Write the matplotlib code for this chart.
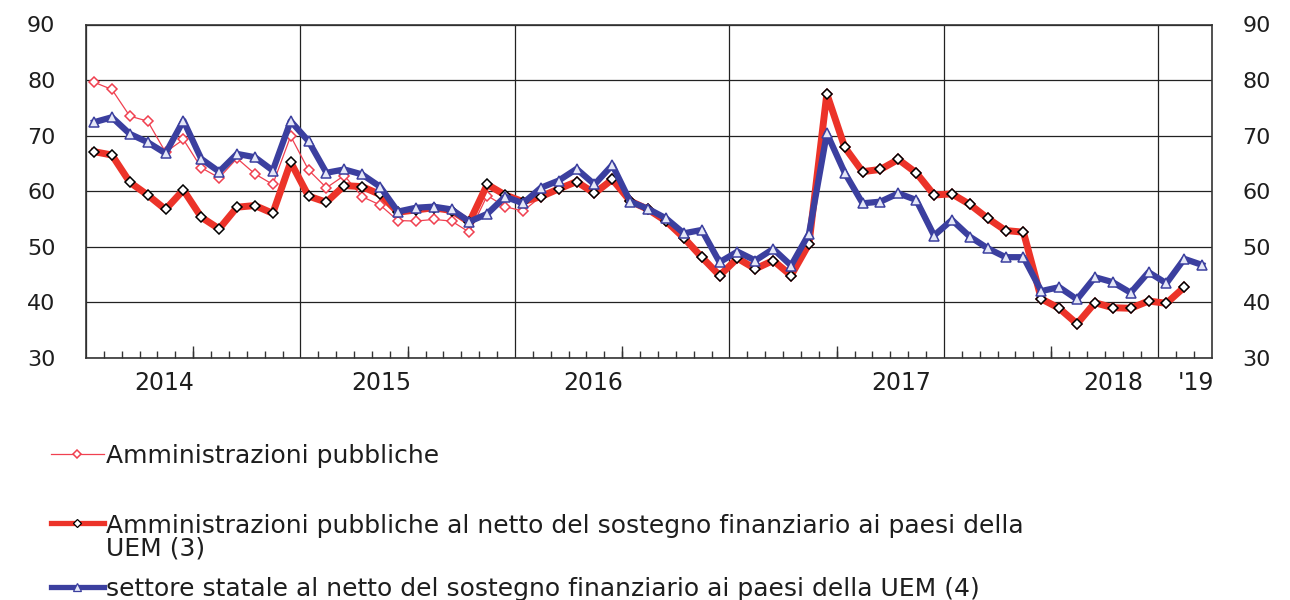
import matplotlib
matplotlib.use("Agg")
import matplotlib.pyplot as plt
from matplotlib.lines import Line2D

# monthly observations, Jan 2014 onwards
ap = [79.6, 78.3, 73.5, 72.6, 67.0, 69.3, 64.2, 62.4, 65.9, 63.1, 61.2, 69.9,
      63.8, 60.6, 62.8, 59.0, 57.5, 54.7, 54.6, 54.9, 54.6, 52.6, 59.2, 57.2,
      56.4, 59.0, 60.4, 61.7, 59.6, 62.1, 58.2, 56.7, 54.6, 51.6, 48.1, 44.8,
      47.9, 46.0, 47.5, 44.8, 50.5, 77.5, 67.9, 63.5, 63.9, 65.7, 63.3, 59.3,
      59.5, 57.6, 55.1, 52.9, 52.6, 40.6, 38.9, 36.1, 39.9, 39.0, 38.9, 40.2,
      39.8, 42.7]
ap_net = [67.1, 66.5, 61.6, 59.3, 56.7, 60.2, 55.3, 53.2, 57.1, 57.4, 56.0, 65.2,
          59.1, 58.0, 61.0, 60.8, 59.4, 56.2, 56.6, 57.0, 56.5, 54.4, 61.2, 59.3,
          58.1, 59.0, 60.4, 61.7, 59.6, 62.1, 58.2, 56.7, 54.6, 51.6, 48.1, 44.8,
          47.9, 46.0, 47.5, 44.8, 50.5, 77.5, 67.9, 63.5, 63.9, 65.7, 63.3, 59.3,
          59.5, 57.6, 55.1, 52.9, 52.6, 40.6, 38.9, 36.1, 39.9, 39.0, 38.9, 40.2,
          39.8, 42.7]
stato_net = [72.4, 73.3, 70.3, 68.8, 66.8, 72.7, 65.8, 63.5, 66.7, 66.1, 63.7, 72.6,
             69.0, 63.3, 63.9, 63.0, 60.8, 56.3, 57.0, 57.2, 56.7, 54.5, 55.9, 59.0,
             57.8, 60.6, 61.9, 64.0, 61.2, 64.7, 58.1, 56.8, 55.1, 52.4, 53.0, 47.2,
             49.1, 47.5, 49.6, 46.6, 52.3, 70.4, 63.3, 57.8, 58.1, 59.6, 58.4, 52.0,
             54.8, 51.8, 49.7, 48.1, 48.1, 42.0, 42.7, 40.5, 44.5, 43.6, 41.7, 45.4,
             43.4, 47.8, 46.7]

year_labels = ["2014", "2015", "2016", "2017", "2018", "'19"]
year_label_pos = [4.4, 16.5, 28.4, 45.6, 57.5, 62.1]

labels = [
    "Amministrazioni pubbliche",
    "Amministrazioni pubbliche al netto del sostegno finanziario ai paesi della\nUEM (3)",
    "settore statale al netto del sostegno finanziario ai paesi della UEM (4)",
]

RED_THIN = "#f04050"
RED = "#ec3329"
BLUE = "#3b3f9f"
TXT = "#1e1e1e"

W, H = 1290, 600
fig = plt.figure(figsize=(W / 100, H / 100), dpi=100)
ax = fig.add_axes([86 / W, 1 - 357.7 / H, (1212 - 86) / W, (357.7 - 24.5) / H])

off = 0.45
x_ap = [i + off for i in range(len(ap))]
x_net = [i + off for i in range(len(ap_net))]
x_st = [i + off for i in range(len(stato_net))]

thin_style = dict(color=RED_THIN, lw=0.9, marker="D", ms=5.2, mfc="white",
                  mec=RED_THIN, mew=1.1)
net_style = dict(color=RED, lw=5, marker="D", ms=5.0, mfc="white",
                 mec="black", mew=1.1, solid_joinstyle="round")
st_style = dict(color=BLUE, lw=4.5, marker="^", ms=7, mfc="#e4e7f7",
                mec=BLUE, mew=1.1, solid_joinstyle="round")

ax.plot(x_ap, ap, zorder=3, **thin_style)
ax.plot(x_net, ap_net, zorder=4, **net_style)
ax.plot(x_st, stato_net, zorder=5, **st_style)

ax.set_xlim(0, 63)
ax.set_ylim(30, 90)
ax.set_yticks(range(30, 91, 10))
ax.set_xticks(range(0, 63, 12))
ax.set_xticklabels([])
ax.set_xticks(range(1, 63), minor=True)
ax.grid(True, color="#222222", lw=0.9)
ax.tick_params(axis="x", which="major", length=0)
ax.tick_params(axis="x", which="minor", direction="in", length=5, width=1, color="#333333")
ax.tick_params(axis="y", length=0, pad=22, labelsize=16, labelright=True, labelcolor=TXT)
for s in ax.spines.values():
    s.set_color("#333333")
    s.set_linewidth(1.2)

# longer ticks at mid-year
sec = ax.secondary_xaxis("bottom")
sec.set_xticks([6, 18, 30, 42, 54])
sec.set_xticklabels([])
sec.tick_params(direction="in", length=9, width=1, color="#333333")
sec.spines["bottom"].set_visible(False)

for lab, xp in zip(year_labels, year_label_pos):
    ax.text(xp, -0.077, lab, transform=ax.get_xaxis_transform(), ha="center",
            va="center", fontsize=17, color=TXT)


# legend, drawn by hand below the plot
def fy(py):
    return 1 - py / H


leg_fs = 18
cap = leg_fs * 100 / 72 * 0.73
# (handle y, y of the last text line, style, label)
rows = [(454, 454, thin_style, labels[0]),
        (522.5, 546, net_style, labels[1]),
        (587, 587, st_style, labels[2])]
for py, ty, style, lab in rows:
    st = dict(style)
    if style is thin_style:
        st.update(lw=0.9, ms=4.5)
    elif style is net_style:
        st.update(lw=3.8, ms=3.8, mew=0.9)
    else:
        st.update(lw=3.8, ms=5.5, mew=0.9)
    fig.add_artist(Line2D([51 / W, 77 / W, 104 / W], [fy(py)] * 3, markevery=[1],
                          transform=fig.transFigure, **st))
    fig.text(106 / W, fy(ty + cap / 2), lab, ha="left", va="baseline", fontsize=leg_fs,
             color=TXT, linespacing=0.91)

fig.savefig("out.png", dpi=100)
